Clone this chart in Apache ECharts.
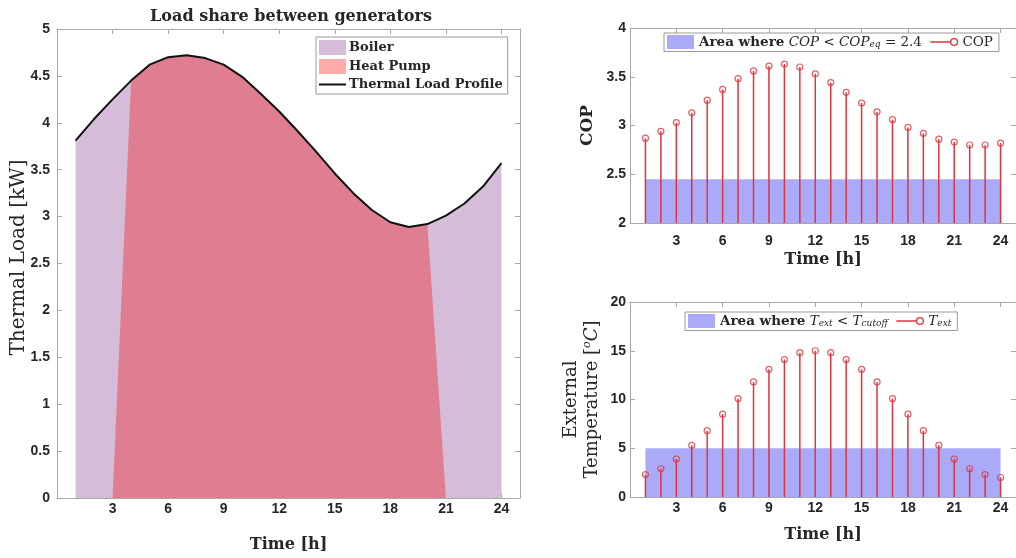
<!DOCTYPE html>
<html>
<head>
<meta charset="utf-8">
<script src="https://cdn.jsdelivr.net/npm/echarts@6/dist/echarts.min.js"></script>
<style>html,body{margin:0;padding:0;background:#fff;}#c{width:1016px;height:558px;}</style>
</head>
<body>
<div id="c"></div>
<script>
// ---- data ----
var hours = [1,2,3,4,5,6,7,8,9,10,11,12,13,14,15,16,17,18,19,20,21,22,23,24];
var thermalLoad = [3.81,4.04,4.25,4.45,4.62,4.70,4.72,4.69,4.62,4.49,4.31,4.12,3.91,3.69,3.46,3.25,3.07,2.94,2.89,2.92,3.01,3.14,3.32,3.57];
var heatPumpLoad = [0,0,0,4.45,4.62,4.70,4.72,4.69,4.62,4.49,4.31,4.12,3.91,3.69,3.46,3.25,3.07,2.94,2.89,2.92,0,0,0,0];
var cop = [2.87,2.94,3.03,3.13,3.26,3.37,3.48,3.56,3.61,3.63,3.60,3.53,3.44,3.34,3.23,3.14,3.06,2.98,2.92,2.86,2.83,2.80,2.80,2.82];
var tempExt = [2.3,2.9,3.9,5.3,6.8,8.5,10.1,11.8,13.1,14.1,14.8,15.0,14.8,14.1,13.1,11.8,10.1,8.5,6.8,5.3,3.9,2.9,2.3,2.0];
var copAreaX = [1,24];
var copAreaY = [2.45,2.45];
var tempAreaX = [1,24];
var tempAreaY = [5,5];
var xTicks = [3,6,9,12,15,18,21,24];

function pairs(xs, ys){ return xs.map(function(x,i){return [x, ys[i]];}); }

var SERIF = '"DejaVu Serif", serif';
var SANS = '"Liberation Sans", Arial, sans-serif';
var AX = '#a8a8a8';
var BOILER = '#d5bdd9';
var HP = 'rgba(246,0,0,0.33)';
var HP_LEG = '#fcaaaa';
var BLUE = '#aaaaf8';
var RED = '#e0343c';
var LINE_ICON = 'path://M0,0H27V2H0Z';
var STEM_ICON = 'path://M0,3H15M15,3A2.5,2.5 0 1 1 20,3A2.5,2.5 0 1 1 15,3';

function xLabel(v){ return xTicks.indexOf(v) >= 0 ? String(v) : ''; }

function xAxisBottom(gi, margin, gap){
  return {type:'value', gridIndex:gi, min:0, max:25, interval:3,
    axisLine:{show:true, onZero:false, lineStyle:{color:AX}},
    axisTick:{show:true, inside:true, length:5, lineStyle:{color:AX}},
    splitLine:{show:false},
    axisLabel:{formatter:xLabel, fontFamily:SANS, fontWeight:'bold', fontSize:14, color:'#262626', margin:margin, showMaxLabel:false},
    name:'Time [h]', nameLocation:'middle', nameGap:gap,
    nameTextStyle:{fontFamily:SERIF, fontWeight:'bold', fontSize:16, color:'#262626'}};
}
function xAxisTop(gi){
  return {type:'value', gridIndex:gi, position:'top', min:0, max:25, interval:3,
    axisLine:{show:true, onZero:false, lineStyle:{color:AX}},
    axisTick:{show:true, inside:true, length:5, lineStyle:{color:AX}},
    splitLine:{show:false}, axisLabel:{show:false}};
}
function yAxisRight(gi, min, max, interval){
  return {type:'value', gridIndex:gi, position:'right', min:min, max:max, interval:interval,
    axisLine:{show:true, onZero:false, lineStyle:{color:AX}},
    axisTick:{show:true, inside:true, length:5, lineStyle:{color:AX}},
    splitLine:{show:false}, axisLabel:{show:false}};
}
var legendRich = {
  b:{fontFamily:SERIF, fontWeight:'bold', fontSize:13.5, color:'#262626'},
  i:{fontFamily:SERIF, fontStyle:'italic', fontSize:13.5, color:'#262626'},
  n:{fontFamily:SERIF, fontSize:13.5, color:'#262626'},
  s:{fontFamily:SERIF, fontStyle:'italic', fontSize:9, color:'#262626', verticalAlign:'bottom', padding:[6,0,0,0]}
};

var option = {
  animation:false,
  backgroundColor:'#fff',
  title:[{text:'Load share between generators', left:286, top:4, textAlign:'center',
    textStyle:{fontFamily:SERIF, fontWeight:'bold', fontSize:16, color:'#262626'}}],
  grid:[
    {left:57, top:29, width:463, height:469},
    {left:630, top:28, width:392, height:195},
    {left:630, top:302, width:392, height:195}
  ],
  xAxis:[
    xAxisBottom(0, 4, 39), xAxisTop(0),
    xAxisBottom(1, 11, 29), xAxisTop(1),
    xAxisBottom(2, 4, 30), xAxisTop(2)
  ],
  yAxis:[
    {type:'value', gridIndex:0, min:0, max:5, interval:0.5,
      axisLine:{show:true, lineStyle:{color:AX}},
      axisTick:{show:true, inside:true, length:5, lineStyle:{color:AX}},
      splitLine:{show:false},
      axisLabel:{fontFamily:SANS, fontWeight:'bold', fontSize:14, color:'#262626', margin:7},
      name:'Thermal Load [kW]', nameLocation:'middle', nameGap:28, nameMoveOverlap:false,
      nameTextStyle:{fontFamily:SERIF, fontSize:20, color:'#262626', padding:[0,0,0,12]}},
    yAxisRight(0,0,5,0.5),
    {type:'value', gridIndex:1, min:2, max:4, interval:0.5,
      axisLine:{show:true, lineStyle:{color:AX}},
      axisTick:{show:true, inside:true, length:5, lineStyle:{color:AX}},
      splitLine:{show:false},
      axisLabel:{fontFamily:SANS, fontWeight:'bold', fontSize:14, color:'#262626', margin:4},
      name:'COP', nameLocation:'middle', nameGap:34,
      nameTextStyle:{fontFamily:SERIF, fontWeight:'bold', fontSize:17, color:'#262626'}},
    yAxisRight(1,2,4,0.5),
    {type:'value', gridIndex:2, min:0, max:20, interval:5,
      axisLine:{show:true, lineStyle:{color:AX}},
      axisTick:{show:true, inside:true, length:5, lineStyle:{color:AX}},
      splitLine:{show:false},
      axisLabel:{fontFamily:SANS, fontWeight:'bold', fontSize:14, color:'#262626', margin:4},
      name:'External\nTemperature [{sup|o}{it|C}]', nameLocation:'middle', nameGap:27,
      nameTextStyle:{fontFamily:SERIF, fontSize:18, color:'#262626', lineHeight:21,
        rich:{sup:{fontFamily:SERIF, fontStyle:'italic', fontSize:11, verticalAlign:'top', color:'#262626'},
              it:{fontFamily:SERIF, fontStyle:'italic', fontSize:18, color:'#262626'}}}},
    yAxisRight(2,0,20,5)
  ],
  legend:[
    {orient:'vertical', left:316, top:37, padding:[3,5,3,3], itemGap:4, itemWidth:27, itemHeight:15,
      backgroundColor:'#fff', borderColor:'#9a9a9a', borderWidth:1, borderRadius:0,
      textStyle:{fontFamily:SERIF, fontWeight:'bold', fontSize:13, color:'#262626', padding:[0,0,0,-2]},
      data:[
        {name:'Boiler', icon:'rect', itemStyle:{color:BOILER}},
        {name:'Heat Pump', icon:'rect', itemStyle:{color:HP_LEG}},
        {name:'Thermal Load Profile', icon:LINE_ICON, itemStyle:{color:'#111'}}
      ]},
    {orient:'horizontal', left:664, top:33, padding:[2,6,2,3], itemGap:6, itemWidth:27, itemHeight:14,
      backgroundColor:'#fff', borderColor:'#9a9a9a', borderWidth:1, borderRadius:0,
      textStyle:{fontFamily:SERIF, fontSize:13.5, color:'#262626', rich:legendRich},
      formatter:function(name){
        if(name==='COParea') return '{b|Area where} {i|COP} {n|<} {i|COP}{s|eq} {n|= 2.4}';
        return '{n|COP}';
      },
      data:[
        {name:'COParea', icon:'rect', itemStyle:{color:BLUE}},
        {name:'COP', icon:STEM_ICON, itemStyle:{color:'none', borderColor:RED, borderWidth:1.4}}
      ]},
    {orient:'horizontal', left:685, top:312, padding:[2,6,2,3], itemGap:6, itemWidth:27, itemHeight:14,
      backgroundColor:'#fff', borderColor:'#9a9a9a', borderWidth:1, borderRadius:0,
      textStyle:{fontFamily:SERIF, fontSize:13.5, color:'#262626', rich:legendRich},
      formatter:function(name){
        if(name==='Tarea') return '{b|Area where} {i|T}{s|ext} {n|<} {i|T}{s|cutoff}';
        return '{i|T}{s|ext}';
      },
      data:[
        {name:'Tarea', icon:'rect', itemStyle:{color:BLUE}},
        {name:'Text', icon:STEM_ICON, itemStyle:{color:'none', borderColor:RED, borderWidth:1.4}}
      ]}
  ],
  series:[
    {name:'Boiler', type:'line', xAxisIndex:0, yAxisIndex:0, data:pairs(hours, thermalLoad),
      symbol:'none', lineStyle:{width:0}, itemStyle:{color:BOILER}, areaStyle:{color:BOILER, opacity:1}, z:1},
    {name:'Heat Pump', type:'line', xAxisIndex:0, yAxisIndex:0, data:pairs(hours, heatPumpLoad),
      symbol:'none', lineStyle:{width:0}, itemStyle:{color:HP_LEG}, areaStyle:{color:HP, opacity:1}, z:2},
    {name:'Thermal Load Profile', type:'line', xAxisIndex:0, yAxisIndex:0, data:pairs(hours, thermalLoad),
      symbol:'none', lineStyle:{width:2, color:'#111'}, itemStyle:{color:'#111'}, z:3},

    {name:'COParea', type:'line', xAxisIndex:2, yAxisIndex:2, data:pairs(copAreaX, copAreaY),
      symbol:'none', lineStyle:{width:0}, itemStyle:{color:BLUE}, areaStyle:{color:BLUE, opacity:1, origin:'start'}, z:1},
    {name:'COPstem', type:'bar', xAxisIndex:2, yAxisIndex:2, data:pairs(hours, cop), barWidth:1.5, clip:true,
      itemStyle:{color:RED}, z:2},
    {name:'COPmark', type:'scatter', xAxisIndex:2, yAxisIndex:2, data:pairs(hours, cop), symbol:'circle', symbolSize:6,
      itemStyle:{color:'rgba(255,255,255,0)', borderColor:RED, borderWidth:1.2}, z:3},
    {name:'COP', type:'line', xAxisIndex:2, yAxisIndex:2, data:[], symbol:'emptyCircle', symbolSize:6,
      lineStyle:{width:1.5, color:RED}, itemStyle:{color:RED}},

    {name:'Tarea', type:'line', xAxisIndex:4, yAxisIndex:4, data:pairs(tempAreaX, tempAreaY),
      symbol:'none', lineStyle:{width:0}, itemStyle:{color:BLUE}, areaStyle:{color:BLUE, opacity:1, origin:'start'}, z:1},
    {name:'Tstem', type:'bar', xAxisIndex:4, yAxisIndex:4, data:pairs(hours, tempExt), barWidth:1.5, clip:true,
      itemStyle:{color:RED}, z:2},
    {name:'Tmark', type:'scatter', xAxisIndex:4, yAxisIndex:4, data:pairs(hours, tempExt), symbol:'circle', symbolSize:6,
      itemStyle:{color:'rgba(255,255,255,0)', borderColor:RED, borderWidth:1.2}, z:3},
    {name:'Text', type:'line', xAxisIndex:4, yAxisIndex:4, data:[], symbol:'emptyCircle', symbolSize:6,
      lineStyle:{width:1.5, color:RED}, itemStyle:{color:RED}}
  ]
};
var chart = echarts.init(document.getElementById('c'), null, {renderer:'canvas'});
chart.setOption(option);
</script>
</body>
</html>
